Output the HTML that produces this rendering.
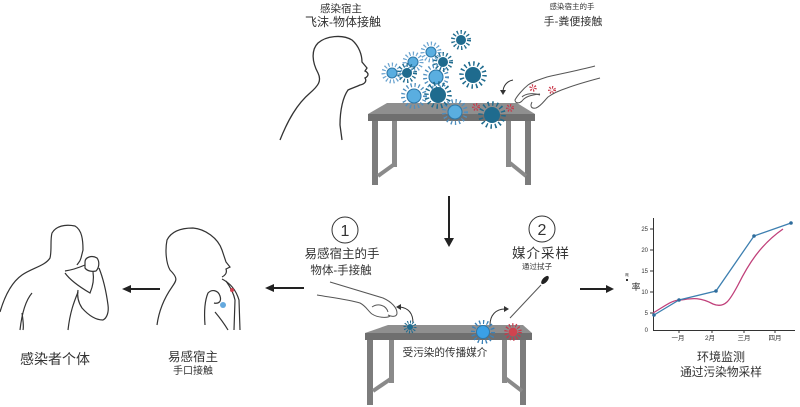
<!DOCTYPE html>
<html><head><meta charset="utf-8"><style>
html,body{margin:0;padding:0;background:#fff;}
svg{display:block;}
text{font-family:"Liberation Sans","Noto Sans CJK SC",sans-serif;fill:#333;}
</style></head><body>
<svg width="800" height="407" viewBox="0 0 800 407" xmlns="http://www.w3.org/2000/svg">
<rect width="800" height="407" fill="#fff"/>

<!-- top labels -->
<text x="341" y="12" font-size="10.5" text-anchor="middle">感染宿主</text>
<text x="343" y="26" font-size="12" text-anchor="middle">飞沫-物体接触</text>
<text x="572" y="9" font-size="7.5" text-anchor="middle">感染宿主的手</text>
<text x="573" y="25" font-size="11" text-anchor="middle">手-粪便接触</text>

<!-- top head -->
<path d="M280,140 C288,120 297,104 310,93 C318,86 322,81 318,73 C312,62 311,50 318,43 C326,36 342,34 352,40 C359,46 362,55 362,62 L367,68 L365,71 C369,73 369,76 365,78 C367,81 365,84 360,85 C356,87 352,88 348,90 C343,97 340,110 340,125 L342,140" fill="none" stroke="#333" stroke-width="1.3"/>

<!-- top table -->
<g>
<rect x="372" y="120" width="6" height="65" fill="#7c7c7c"/>
<rect x="392" y="120" width="5" height="47" fill="#8a8a8a"/>
<path d="M396,163 L378,176" stroke="#8a8a8a" stroke-width="4"/>
<rect x="525" y="120" width="6" height="65" fill="#7c7c7c"/>
<rect x="506" y="120" width="5" height="47" fill="#8a8a8a"/>
<path d="M510,163 L526,176" stroke="#8a8a8a" stroke-width="4"/>
<polygon points="387,103 517,103 535,114 368,114" fill="#8f8f8f"/>
<rect x="368" y="114" width="167" height="7" fill="#6f6f6f"/>
</g>

<!-- viruses top: light -->
<g fill="#5aaee0" stroke="#2f78a8" stroke-width="1.1">
<g transform="translate(431,52)"><circle r="8.5" fill="none" stroke="#6aa3cf" stroke-width="4" stroke-dasharray="1.2 2.4"/><circle r="5"/></g>
<g transform="translate(413,62)"><circle r="8.5" fill="none" stroke="#6aa3cf" stroke-width="4" stroke-dasharray="1.2 2.4"/><circle r="5"/></g>
<g transform="translate(392,73)"><circle r="8.5" fill="none" stroke="#6aa3cf" stroke-width="4" stroke-dasharray="1.2 2.4"/><circle r="5"/></g>
<g transform="translate(436,77)"><circle r="11" fill="none" stroke="#4f8fbf" stroke-width="4" stroke-dasharray="1.3 2.7"/><circle r="7"/></g>
<g transform="translate(414,96)"><circle r="11" fill="none" stroke="#4f8fbf" stroke-width="4" stroke-dasharray="1.3 2.7"/><circle r="7"/></g>
<g transform="translate(455,112)"><circle r="11" fill="none" stroke="#4f8fbf" stroke-width="4" stroke-dasharray="1.3 2.7"/><circle r="7"/></g>
</g>
<!-- dark -->
<g fill="#1f6b8e">
<g transform="translate(461,40)"><circle r="8" fill="none" stroke="#1f6b8e" stroke-width="4" stroke-dasharray="1.3 2.4"/><circle r="5"/></g>
<g transform="translate(443,62)"><circle r="8" fill="none" stroke="#1f6b8e" stroke-width="4" stroke-dasharray="1.3 2.4"/><circle r="5"/></g>
<g transform="translate(407,73)"><circle r="8" fill="none" stroke="#1f6b8e" stroke-width="4" stroke-dasharray="1.3 2.4"/><circle r="5"/></g>
<g transform="translate(473,75)"><circle r="11.5" fill="none" stroke="#1f6b8e" stroke-width="4.5" stroke-dasharray="1.5 3"/><circle r="8"/></g>
<g transform="translate(438,95)"><circle r="11.5" fill="none" stroke="#1f6b8e" stroke-width="4.5" stroke-dasharray="1.5 3"/><circle r="8"/></g>
<g transform="translate(492,115)"><circle r="11.5" fill="none" stroke="#1f6b8e" stroke-width="4.5" stroke-dasharray="1.5 3"/><circle r="8"/></g>
</g>
<!-- red small -->
<g fill="none" stroke="#c9384a" stroke-width="3" stroke-dasharray="1 1.3">
<circle cx="476" cy="107" r="2.5"/>
<circle cx="510" cy="108" r="2.5"/>
<circle cx="533" cy="88" r="2.2"/>
<circle cx="552" cy="90" r="2.5"/>
</g>

<!-- top right hand -->
<g fill="none" stroke="#555" stroke-width="1">
<path d="M595,66 C580,70 560,74 547,77 C538,80 532,82 528,85 C523,89 517,96 515,100 C515,103 519,104 522,101 C525,97 530,95 540,94"/>
<path d="M600,78 C585,82 575,85 567,88 C558,91 552,94 548,97 C544,101 541,106 536,108 C531,109 530,106 532,102"/>
<path d="M522,97 C526,93 534,93 540,95"/>
<path d="M513,80 C507,81 503,86 503,92" stroke="#333"/>
</g>
<polygon points="500,90 506,90 503,95" fill="#333"/>

<!-- main down arrow -->
<line x1="449" y1="196" x2="449" y2="240" stroke="#222" stroke-width="2"/>
<polygon points="444,238 454,238 449,247" fill="#222"/>

<!-- horizontal arrows -->
<line x1="304" y1="288" x2="272" y2="288" stroke="#222" stroke-width="2"/>
<polygon points="274,284 274,292 265,288" fill="#222"/>
<line x1="160" y1="289" x2="130" y2="289" stroke="#222" stroke-width="2"/>
<polygon points="131,285 131,293 122,289" fill="#222"/>
<line x1="580" y1="289" x2="607" y2="289" stroke="#222" stroke-width="2"/>
<polygon points="606,285 606,293 614,289" fill="#222"/>

<!-- circles and labels -->
<circle cx="345" cy="230" r="13" fill="#fff" stroke="#333" stroke-width="1"/>
<text x="345" y="236" font-size="16" text-anchor="middle">1</text>
<circle cx="542" cy="229" r="13" fill="#fff" stroke="#333" stroke-width="1"/>
<text x="542" y="235" font-size="16" text-anchor="middle">2</text>
<text x="342" y="258" font-size="12.5" text-anchor="middle">易感宿主的手</text>
<text x="341" y="274" font-size="11.5" text-anchor="middle">物体-手接触</text>
<text x="541" y="258" font-size="13.5" text-anchor="middle" letter-spacing="1">媒介采样</text>
<text x="537" y="269" font-size="7.5" text-anchor="middle">通过拭子</text>

<!-- swab -->
<line x1="510" y1="318" x2="541" y2="285" stroke="#555" stroke-width="1"/>
<ellipse cx="545" cy="280" rx="2.5" ry="5" transform="rotate(42 545 280)" fill="#222"/>

<!-- bottom hand -->
<g fill="none" stroke="#555" stroke-width="1">
<path d="M330,282 C350,288 370,294 383,298 C392,302 397,308 397,313 C397,317 392,317 388,315"/>
<path d="M317,295 C335,298 350,300 360,303 C366,306 368,311 372,314 C378,318 388,318 390,316"/>
<path d="M372,307 C378,303 386,305 388,312"/>
</g>
<!-- small arrows bottom -->
<path d="M413,323 C413,313 408,308 400,307" fill="none" stroke="#333" stroke-width="1"/>
<polygon points="401,304 401,310 396,307" fill="#333"/>
<path d="M490,325 C490,315 496,309 505,309" fill="none" stroke="#333" stroke-width="1"/>
<polygon points="504,306 504,312 509,309" fill="#333"/>

<!-- bottom table -->
<g>
<rect x="367" y="339" width="6" height="66" fill="#7c7c7c"/>
<rect x="389" y="339" width="5" height="44" fill="#8a8a8a"/>
<path d="M392,378 L373,391" stroke="#8a8a8a" stroke-width="4"/>
<rect x="520" y="339" width="6" height="66" fill="#7c7c7c"/>
<rect x="502" y="339" width="5" height="44" fill="#8a8a8a"/>
<path d="M505,378 L522,391" stroke="#8a8a8a" stroke-width="4"/>
<polygon points="388,325 523,325 532,333 365,333" fill="#8f8f8f"/>
<rect x="365" y="333" width="167" height="7" fill="#6f6f6f"/>
</g>
<g transform="translate(410,327)" fill="#1f6b8e"><circle r="5" fill="none" stroke="#1f6b8e" stroke-width="3" stroke-dasharray="1 1.6"/><circle r="3"/></g>
<g transform="translate(483,332)"><circle r="10" fill="none" stroke="#3b82b8" stroke-width="4" stroke-dasharray="1.3 2.6"/><circle r="6.5" fill="#3aa0e6" stroke="#2f78a8" stroke-width="1"/></g>
<g transform="translate(513,332)"><circle r="7" fill="none" stroke="#c9384a" stroke-width="3.5" stroke-dasharray="1.2 2"/><circle r="4.5" fill="#d0434f"/></g>
<text x="445" y="356" font-size="10.6" text-anchor="middle">受污染的传播媒介</text>

<!-- left figure: infected person coughing -->
<g fill="none" stroke="#333" stroke-width="1.2">
<path d="M0,312 C5,295 12,282 22,275 C32,268 45,266 50,258 C52,250 50,240 52,233 C56,226 65,224 75,226 C82,230 83,240 83,250 L81,258 C80,262 78,263 77,265"/>
<path d="M85,262 C85,257 92,255 97,258 C100,262 99,268 96,271 C92,272 87,271 85,268 Z"/>
<path d="M65,271 C72,270 78,268 85,265"/>
<path d="M65,273 C70,280 78,286 90,293 C93,286 94,278 93,272"/>
<path d="M99,268 C103,278 106,290 108,305 C109,312 107,318 103,320 C97,320 90,317 82,308 C78,302 77,296 78,290"/>
<path d="M32,293 C26,300 22,312 20,330"/>
<path d="M22,313 C23,320 24,326 23,330"/>
<path d="M78,292 C74,302 70,312 68,330"/>
</g>

<!-- second figure: susceptible host -->
<g fill="none" stroke="#333" stroke-width="1.2">
<path d="M157,325 C159,310 165,297 172,287 C177,280 178,278 170,270 C166,263 165,250 167,240 C171,232 180,228 193,228 C205,229 218,238 222,250 L226,262 L230,267 L226,269 C227,272 226,275 222,277"/>
<path d="M205,325 C204,312 205,300 208,293 C212,289 218,290 220,296 C222,302 218,304 214,303"/>
<path d="M215,312 C220,318 225,325 228,330"/>
<path d="M222,279 C230,283 236,290 239,300 L240,330"/>
<path d="M226,281 C231,288 234,295 235,300 L234,330"/>
</g>
<circle cx="232" cy="290" r="2" fill="#d04050"/>
<circle cx="223" cy="305" r="3" fill="#4a9ad8" opacity="0.85"/>

<text x="55" y="364" font-size="14" text-anchor="middle">感染者个体</text>
<text x="193" y="361" font-size="12.5" text-anchor="middle">易感宿主</text>
<text x="193" y="374" font-size="10" text-anchor="middle">手口接触</text>

<!-- chart -->
<g stroke="#333" stroke-width="1" fill="none">
<line x1="653.5" y1="218" x2="653.5" y2="330"/>
<line x1="653" y1="330.5" x2="795" y2="330.5"/>
<line x1="650" y1="229" x2="653" y2="229"/>
<line x1="650" y1="250" x2="653" y2="250"/>
<line x1="650" y1="271" x2="653" y2="271"/>
<line x1="650" y1="292" x2="653" y2="292"/>
<line x1="650" y1="313" x2="653" y2="313"/>
<line x1="679" y1="330" x2="679" y2="333"/>
<line x1="712" y1="330" x2="712" y2="333"/>
<line x1="744" y1="330" x2="744" y2="333"/>
<line x1="775" y1="330" x2="775" y2="333"/>
</g>
<g font-size="6" fill="#777" text-anchor="end">
<text x="648" y="231" fill="#888">25</text>
<text x="648" y="252" fill="#888">20</text>
<text x="648" y="273" fill="#888">15</text>
<text x="648" y="294" fill="#888">10</text>
<text x="648" y="315" fill="#888">5</text>
<text x="648" y="332" fill="#888">0</text>
</g>
<g font-size="6.5" text-anchor="middle">
<text x="678" y="340">一月</text>
<text x="710" y="340">2月</text>
<text x="744" y="340">三月</text>
<text x="775" y="340">四月</text>
</g>
<text x="627" y="276" font-size="3.5" text-anchor="middle">概</text>
<rect x="626" y="279" width="2" height="2" fill="#333"/>
<text x="636" y="290" font-size="9" text-anchor="middle">率</text>
<path d="M653,313 C665,306 672,300 680,300 C690,299 698,296 713,304 C725,309 730,300 738,285 C748,265 760,245 783,229" fill="none" stroke="#c0407a" stroke-width="1.3"/>
<polyline points="654,315 679,300 716,291 754,236 791,223" fill="none" stroke="#3d7fb0" stroke-width="1.3"/>
<g fill="#2e6c9c">
<circle cx="654" cy="315" r="1.8"/><circle cx="679" cy="300" r="1.8"/><circle cx="716" cy="291" r="1.8"/><circle cx="754" cy="236" r="1.8"/><circle cx="791" cy="223" r="1.8"/>
</g>
<text x="721" y="361" font-size="12" text-anchor="middle">环境监测</text>
<text x="721" y="376" font-size="11.7" text-anchor="middle">通过污染物采样</text>
</svg>
</body></html>
